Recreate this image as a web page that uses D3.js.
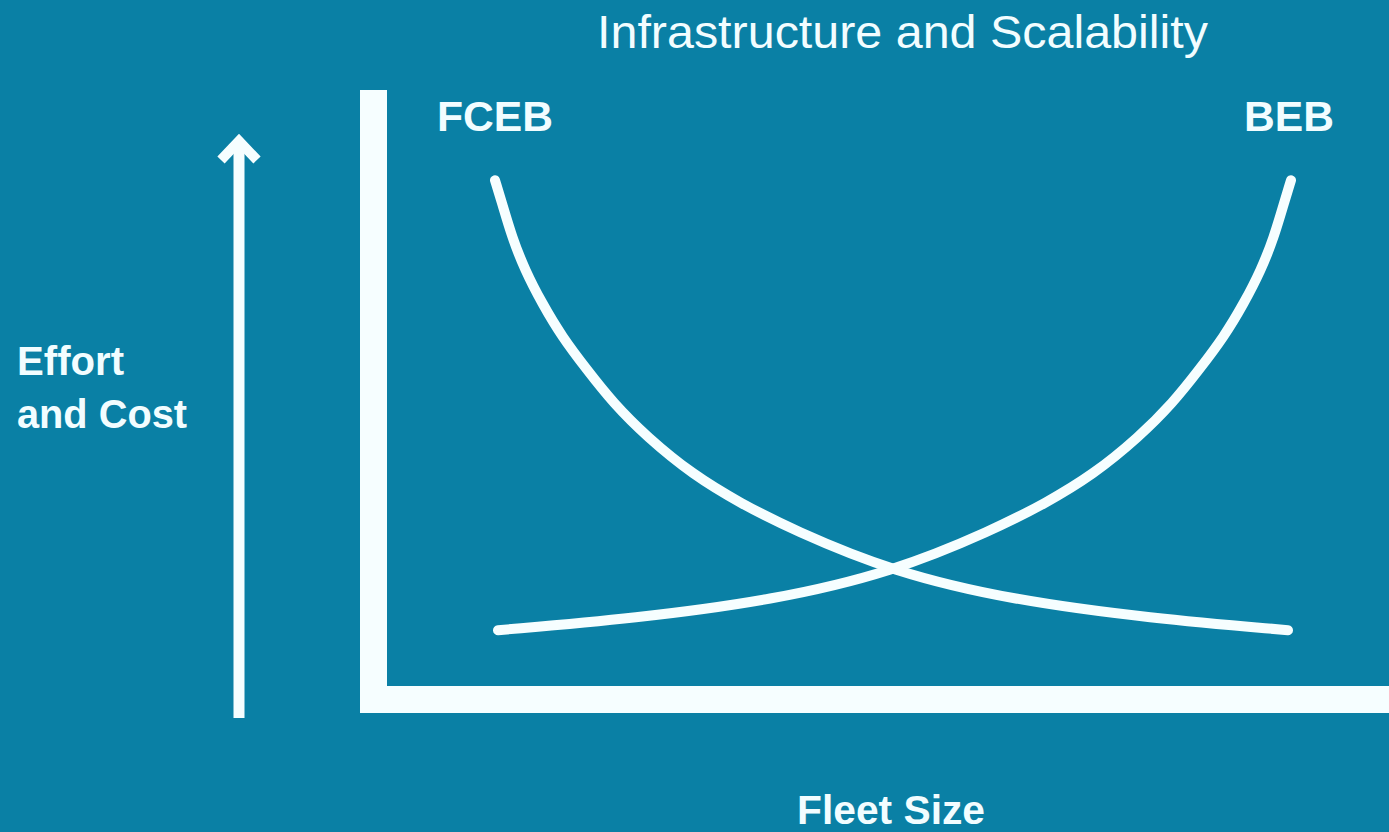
<!DOCTYPE html>
<html>
<head>
<meta charset="utf-8">
<script src="https://cdn.jsdelivr.net/npm/d3@7"></script>
<style>
  html, body { margin: 0; padding: 0; background: #0a80a5; }
  svg { display: block; }
  text { font-family: "Liberation Sans", Arial, sans-serif; fill: #f2fdff; }
</style>
</head>
<body>
<svg id="chart" width="1389" height="832"></svg>
<script>
// Fleet size (x) and effort/cost (y) on a 0–100 conceptual scale
const fceb_x = [10.8, 11.5, 12.5, 13.8, 15.5, 17.5, 20, 22.6, 26, 30.6, 35.3, 40.6, 50.6, 62.6, 76.3, 90.1];
const fceb_y = [84.3, 80.5, 74.8, 69.3, 63.8, 58.2, 52.7, 47.2, 41.5, 35.2, 30.5, 26, 19, 14.3, 11.3, 9.3];
const beb_x  = [11.1, 24.9, 38.6, 50.6, 60.6, 65.9, 70.6, 75.2, 78.6, 81.2, 83.7, 85.7, 87.4, 88.7, 89.7, 90.4];
const beb_y  = [9.3, 11.3, 14.3, 19, 26, 30.5, 35.2, 41.5, 47.2, 52.7, 58.2, 63.8, 69.3, 74.8, 80.5, 84.3];

const seriesNames = ["FCEB", "BEB"];
const chartTitle = "Infrastructure and Scalability";
const xAxisTitle = "Fleet Size";
const yAxisTitle = ["Effort", "and Cost"];

const svg = d3.select("#chart");
const W = 1389, H = 832;
const ink = "#f6feff";

svg.append("rect").attr("width", W).attr("height", H).attr("fill", "#0a80a5");

const x = d3.scaleLinear().domain([0, 100]).range([387, 1387]);
const y = d3.scaleLinear().domain([0, 100]).range([686, 86]);

// Heavy L-shaped axes
const axisW = 27;
svg.append("line")
  .attr("x1", x(0) - axisW / 2).attr("x2", x(0) - axisW / 2)
  .attr("y1", y(100) + 4).attr("y2", y(0) + axisW)
  .attr("stroke", ink).attr("stroke-width", axisW);
svg.append("line")
  .attr("x1", x(0) - axisW).attr("x2", W)
  .attr("y1", y(0) + axisW / 2).attr("y2", y(0) + axisW / 2)
  .attr("stroke", ink).attr("stroke-width", axisW);

// Curves (B-spline through the sampled points for a smooth sweep)
const line = d3.line()
  .x(d => x(d[0])).y(d => y(d[1]))
  .curve(d3.curveBasis);

const fceb = fceb_x.map((v, i) => [v, fceb_y[i]]);
const beb = beb_x.map((v, i) => [v, beb_y[i]]);

svg.append("path").datum(fceb)
  .attr("d", line)
  .attr("fill", "none").attr("stroke", ink)
  .attr("stroke-width", 10).attr("stroke-linecap", "round");
svg.append("path").datum(beb)
  .attr("d", line)
  .attr("fill", "none").attr("stroke", ink)
  .attr("stroke-width", 10).attr("stroke-linecap", "round");

// Series labels
svg.append("text").text(seriesNames[0])
  .attr("x", 437).attr("y", 131)
  .attr("font-size", 42).attr("font-weight", "bold")
  .attr("textLength", 116).attr("lengthAdjust", "spacingAndGlyphs");
svg.append("text").text(seriesNames[1])
  .attr("x", 1244).attr("y", 131)
  .attr("font-size", 42).attr("font-weight", "bold")
  .attr("textLength", 90).attr("lengthAdjust", "spacingAndGlyphs");

// Title
svg.append("text").text(chartTitle)
  .attr("x", 597).attr("y", 48)
  .attr("font-size", 46)
  .attr("textLength", 611).attr("lengthAdjust", "spacingAndGlyphs");

// X axis title
svg.append("text").text(xAxisTitle)
  .attr("x", 797).attr("y", 824)
  .attr("font-size", 40).attr("font-weight", "bold")
  .attr("textLength", 188).attr("lengthAdjust", "spacingAndGlyphs");

// Y axis title (two lines)
svg.append("text").text(yAxisTitle[0])
  .attr("x", 17).attr("y", 375)
  .attr("font-size", 40).attr("font-weight", "bold")
  .attr("textLength", 107).attr("lengthAdjust", "spacingAndGlyphs");
svg.append("text").text(yAxisTitle[1])
  .attr("x", 17).attr("y", 428)
  .attr("font-size", 40).attr("font-weight", "bold")
  .attr("textLength", 170).attr("lengthAdjust", "spacingAndGlyphs");

// Upward arrow beside the y title
svg.append("line")
  .attr("x1", 239).attr("x2", 239)
  .attr("y1", 718).attr("y2", 142)
  .attr("stroke", ink).attr("stroke-width", 11);
svg.append("path")
  .attr("d", "M221,160 L239,141 L257,160")
  .attr("fill", "none").attr("stroke", ink)
  .attr("stroke-width", 10).attr("stroke-linejoin", "miter");
</script>
</body>
</html>
